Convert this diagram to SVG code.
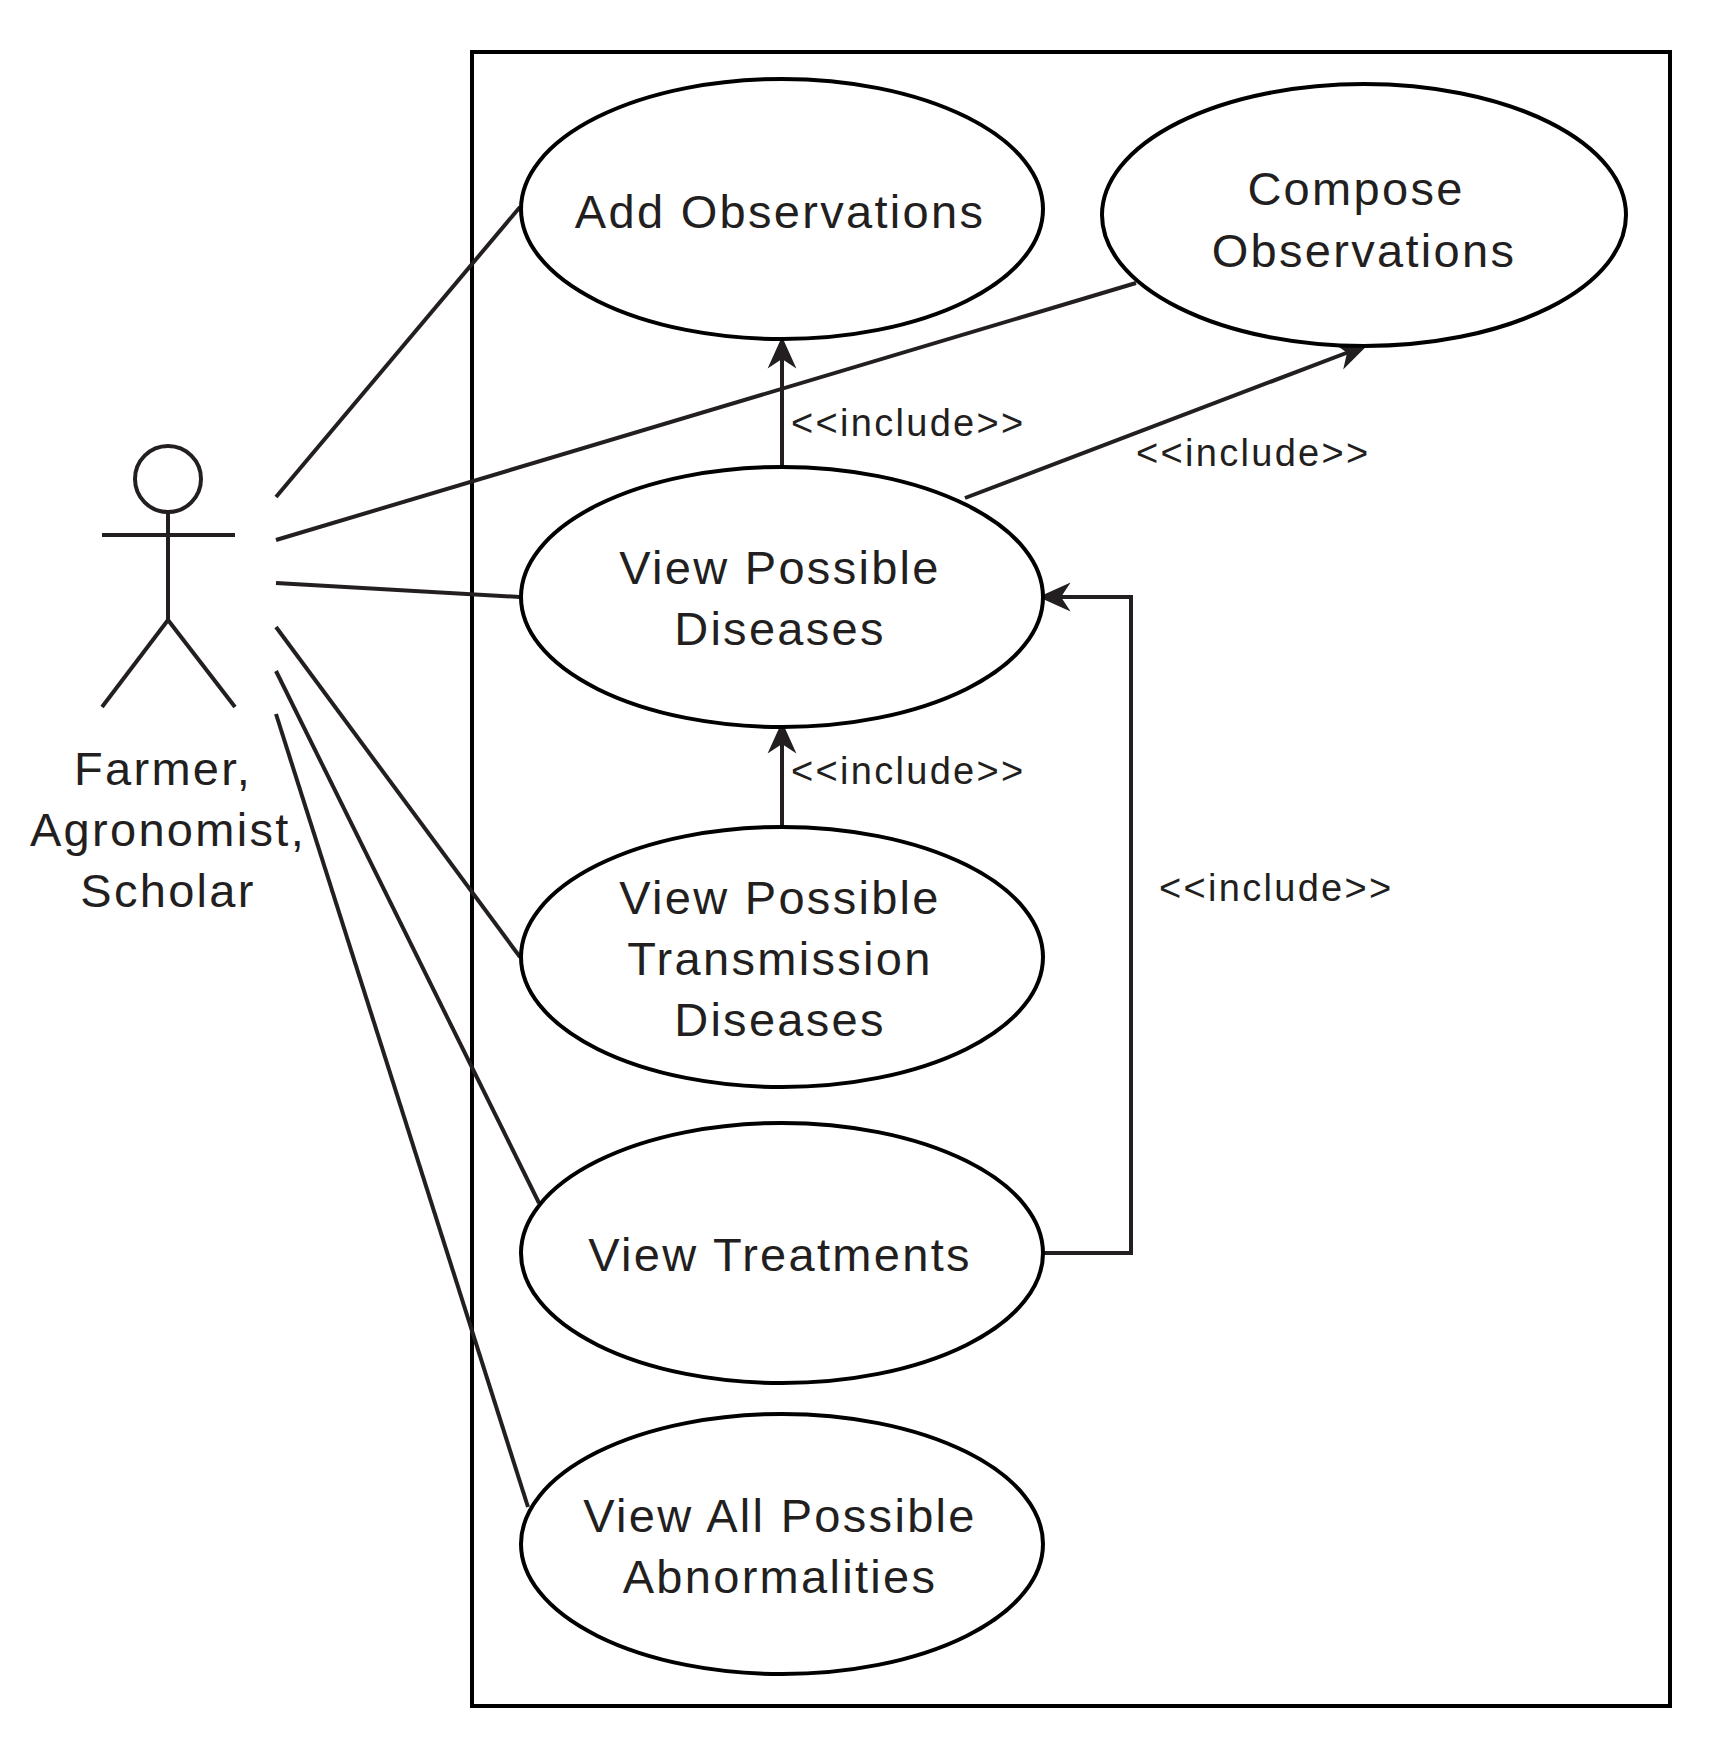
<svg xmlns="http://www.w3.org/2000/svg" width="1722" height="1748" viewBox="0 0 1722 1748">
<defs>
<style>
.s{fill:none;stroke:#231f20;stroke-width:4}
.e{fill:#fff;stroke:#000;stroke-width:4}
.t{font-family:"Liberation Sans",Arial,sans-serif;font-size:47px;fill:#231f20;text-anchor:middle;letter-spacing:2.3px}
.l{font-family:"Liberation Sans",Arial,sans-serif;font-size:38px;fill:#231f20;letter-spacing:2.3px}
</style>
<marker id="a" viewBox="0 0 20 20" refX="16" refY="10" markerWidth="32" markerHeight="32" markerUnits="userSpaceOnUse" orient="auto">
<path d="M0,1 L20,10 L0,19 L6,10 Z" fill="#231f20"/>
</marker>
</defs>
<rect width="1722" height="1748" fill="#fff"/>
<rect id="boundary" x="472" y="52" width="1198" height="1654" fill="none" stroke="#000" stroke-width="4"/>
<g id="connectors" class="s">
<line x1="276" y1="497" x2="520" y2="207"/>
<line x1="276" y1="540" x2="1136" y2="283"/>
<line x1="276" y1="583" x2="520" y2="597"/>
<line x1="276" y1="627" x2="520" y2="957"/>
<line x1="276" y1="671" x2="539" y2="1203"/>
<line x1="276" y1="714" x2="528" y2="1507"/>
<line x1="782" y1="466" x2="782" y2="343" marker-end="url(#a)"/>
<line x1="965" y1="498" x2="1362" y2="347" marker-end="url(#a)"/>
<line x1="782" y1="827" x2="782" y2="728" marker-end="url(#a)"/>
<polyline points="1043,1253 1131,1253 1131,597 1045,597" marker-end="url(#a)"/>
</g>
<g id="labels">
<text class="l" x="791" y="436">&lt;&lt;include&gt;&gt;</text>
<text class="l" x="1136" y="466">&lt;&lt;include&gt;&gt;</text>
<text class="l" x="791" y="784">&lt;&lt;include&gt;&gt;</text>
<text class="l" x="1159" y="901">&lt;&lt;include&gt;&gt;</text>
</g>
<g id="actor" class="s">
<circle cx="168" cy="479" r="33"/>
<line x1="102" y1="535" x2="235" y2="535"/>
<line x1="168" y1="512" x2="168" y2="620"/>
<line x1="168" y1="620" x2="102" y2="707"/>
<line x1="168" y1="620" x2="235" y2="707"/>
</g>
<g id="actor-label"><text class="t"><tspan x="163" y="785">Farmer,</tspan><tspan x="168" y="846">Agronomist,</tspan><tspan x="168" y="907">Scholar</tspan></text></g>
<g id="add"><ellipse class="e" cx="782" cy="209" rx="261" ry="130"/><text class="t" x="780" y="228">Add Observations</text></g>
<g id="compose"><ellipse class="e" cx="1364" cy="215" rx="262" ry="131"/><text class="t"><tspan x="1356" y="205">Compose</tspan><tspan x="1364" y="267">Observations</tspan></text></g>
<g id="vpd"><ellipse class="e" cx="782" cy="597" rx="261" ry="130"/><text class="t"><tspan x="780" y="584">View Possible</tspan><tspan x="780" y="645">Diseases</tspan></text></g>
<g id="vptd"><ellipse class="e" cx="782" cy="957" rx="261" ry="130"/><text class="t"><tspan x="780" y="914">View Possible</tspan><tspan x="780" y="975">Transmission</tspan><tspan x="780" y="1036">Diseases</tspan></text></g>
<g id="vt"><ellipse class="e" cx="782" cy="1253" rx="261" ry="130"/><text class="t" x="780" y="1271">View Treatments</text></g>
<g id="vapa"><ellipse class="e" cx="782" cy="1544" rx="261" ry="130"/><text class="t"><tspan x="780" y="1532">View All Possible</tspan><tspan x="780" y="1593">Abnormalities</tspan></text></g>
</svg>
